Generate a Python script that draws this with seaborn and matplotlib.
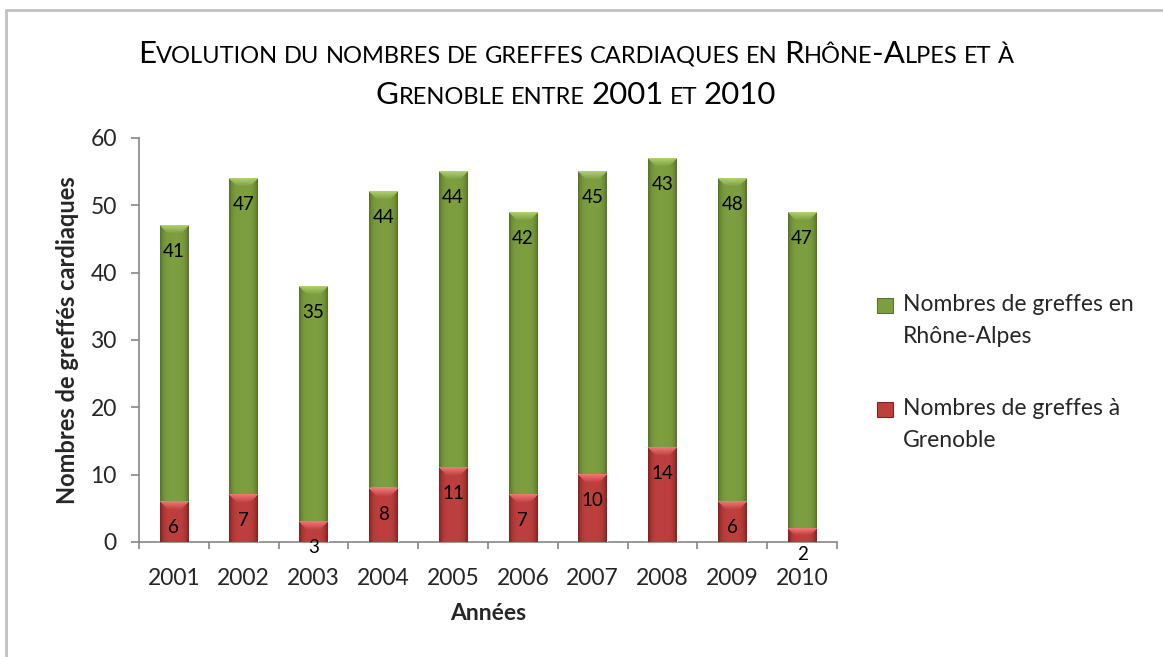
import numpy as np
import pandas as pd
import seaborn as sns
import matplotlib
matplotlib.use('Agg')
import matplotlib.pyplot as plt
from matplotlib.patches import Rectangle
from matplotlib.lines import Line2D
from matplotlib.offsetbox import TextArea, HPacker, DrawingArea, AnchoredOffsetbox

annees = ['2001', '2002', '2003', '2004', '2005', '2006', '2007', '2008', '2009', '2010']
grenoble = [6, 7, 3, 8, 11, 7, 10, 14, 6, 2]
rhone_alpes = [41, 47, 35, 44, 44, 42, 45, 43, 48, 47]
serie_ra = 'Nombres de greffes en\nRhône-Alpes'
serie_gr = 'Nombres de greffes à\nGrenoble'
titre = ['Evolution du nombres de greffes cardiaques en Rhône-Alpes et à',
         'Grenoble entre 2001 et 2010']

df = pd.DataFrame({'annee': annees, 'grenoble': grenoble, 'rhone_alpes': rhone_alpes})
df['total'] = df['grenoble'] + df['rhone_alpes']

sns.set_theme(style='white')
plt.rcParams['font.family'] = ['Lato', 'DejaVu Sans']

vert = np.array([0.49, 0.62, 0.25])
vert_bord = np.array([0.35, 0.46, 0.16])
vert_clair = np.array([0.72, 0.85, 0.45])
rouge = np.array([0.74, 0.25, 0.24])
rouge_bord = np.array([0.52, 0.14, 0.13])
rouge_clair = np.array([0.98, 0.50, 0.50])

W, H = 1163, 657
fig = plt.figure(figsize=(W / 100, H / 100), dpi=100)
ax = fig.add_axes([139 / W, 1 - 542 / H, 698 / W, 404 / H])

sns.barplot(data=df, x='annee', y='total', color=vert, width=0.41,
            saturation=1, ax=ax, zorder=2)
sns.barplot(data=df, x='annee', y='grenoble', color=rouge, width=0.41,
            saturation=1, ax=ax, zorder=4)

ax.set_xlim(-0.5, 9.5)
ax.set_ylim(0, 60)


def ombrer(patch, base, bord, clair, z):
    x0, y0 = patch.get_x(), patch.get_y()
    w, h = patch.get_width(), patch.get_height()
    p0 = ax.transData.transform((x0, y0))
    p1 = ax.transData.transform((x0 + w, y0 + h))
    nw = max(int(round(p1[0] - p0[0])), 2)
    nh = max(int(round(p1[1] - p0[1])), 2)
    k = np.abs(np.linspace(-1, 1, nw)) ** 4
    ligne = (1 - k)[:, None] * base + k[:, None] * bord
    img = np.tile(ligne[None, :, :], (nh, 1, 1))
    d = min(8, nh // 2)
    for r in range(d):
        f = 0.85 * (1 - r / d)
        img[r, r:nw - r] = img[r, r:nw - r] * (1 - f) + clair * f
    ax.imshow(img, extent=(x0, x0 + w, y0, y0 + h), origin='upper',
              aspect='auto', zorder=z, clip_path=patch, interpolation='bilinear')


for p in ax.containers[0]:
    ombrer(p, vert, vert_bord, vert_clair, 3)
for p in ax.containers[1]:
    ombrer(p, rouge, rouge_bord, rouge_clair, 5)

ax.set_xlim(-0.5, 9.5)
ax.set_ylim(0, 60)

# etiquettes de donnees
for i in range(len(annees)):
    ax.annotate(str(rhone_alpes[i]), (i, df['total'][i]), xytext=(0, -26),
                textcoords='offset pixels', ha='center', va='center',
                fontsize=13.5, color='black', zorder=10)
    ax.annotate(str(grenoble[i]), (i, grenoble[i]), xytext=(0, -26),
                textcoords='offset pixels', ha='center', va='center',
                fontsize=13.5, color='black', zorder=10, annotation_clip=False)

# axes
for s in ['top', 'right']:
    ax.spines[s].set_visible(False)
for s in ['left', 'bottom']:
    ax.spines[s].set_color('#868686')
    ax.spines[s].set_linewidth(1.2)
ax.set_yticks(range(0, 61, 10))
ax.set_xticks(np.arange(-0.5, 10, 1), labels=[''] * 11)
ax.set_xticks(np.arange(10), labels=annees, minor=True)
ax.tick_params(axis='y', length=6, width=1.2, color='#868686', pad=10,
               labelsize=16.5, left=True, direction='out')
ax.tick_params(axis='x', which='major', length=5, width=1.2, color='#868686',
               bottom=True, direction='out')
ax.tick_params(axis='x', which='minor', length=0, pad=19, labelsize=16.5)
ax.grid(False)

ax.set_ylabel('Nombres de greffés cardiaques', fontsize=17, fontweight='bold', va='center')
ax.yaxis.set_label_coords(-0.103, 0.5)
ax.set_xlabel('Années', fontsize=16.5, fontweight='bold', va='center')
ax.xaxis.set_label_coords(0.5, -0.178)


# titre en petites capitales
def petites_capitales(texte, grand, petit):
    runs = []
    for ch in texte:
        if ch == ' ':
            runs.append(('esp', ' '))
            continue
        kind = 'petit' if ch.islower() else 'grand'
        if runs and runs[-1][0] == kind:
            runs[-1] = (kind, runs[-1][1] + ch.upper())
        else:
            runs.append((kind, ch.upper()))
    enfants = []
    for kind, s in runs:
        if kind == 'esp':
            enfants.append(DrawingArea(petit * 0.26, 1))
        else:
            enfants.append(TextArea(s, textprops=dict(fontsize=grand if kind == 'grand' else petit,
                                                      color='black')))
    return HPacker(children=enfants, align='baseline', pad=0, sep=0)


for ligne, y in zip(titre, [1 - 54 / H, 1 - 95 / H]):
    box = AnchoredOffsetbox(loc='center', child=petites_capitales(ligne, 22.5, 17),
                            bbox_to_anchor=(0.495, y), bbox_transform=fig.transFigure,
                            frameon=False, pad=0, borderpad=0)
    fig.add_artist(box)

# legende
fig.patches.append(Rectangle((877 / W, 1 - 313 / H), 16 / W, 15 / H,
                             transform=fig.transFigure, facecolor=vert, edgecolor=vert_bord, lw=0.8))
fig.patches.append(Rectangle((877 / W, 1 - 417 / H), 16 / W, 15 / H,
                             transform=fig.transFigure, facecolor=rouge, edgecolor=rouge_bord, lw=0.8))
for lab, yb in [(serie_ra, 311), (serie_gr, 415)]:
    l1, l2 = lab.split('\n')
    fig.text(903 / W, 1 - yb / H, l1, fontsize=16.5, va='baseline', ha='left')
    fig.text(903 / W, 1 - (yb + 32) / H, l2, fontsize=16.5, va='baseline', ha='left')

# cadre
fig.add_artist(Line2D([6 / W, 6 / W], [0, 1 - 10 / H], transform=fig.transFigure,
                      color='#c0c0c0', lw=2))
fig.add_artist(Line2D([6 / W, 1], [1 - 10 / H, 1 - 10 / H], transform=fig.transFigure,
                      color='#c0c0c0', lw=2))

fig.savefig('out.png', dpi=100)
